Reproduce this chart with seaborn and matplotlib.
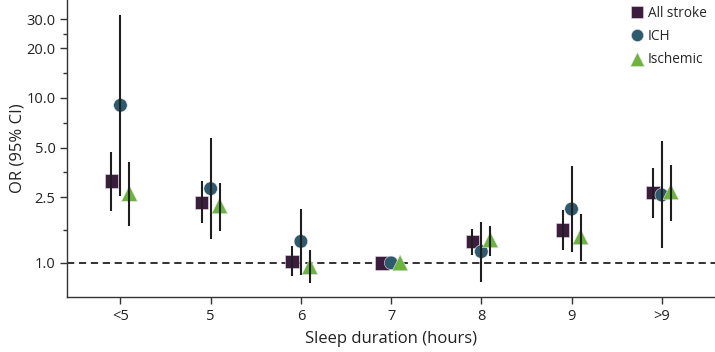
import pandas as pd
import numpy as np
import matplotlib
matplotlib.use("Agg")
import matplotlib.pyplot as plt
from matplotlib.ticker import FixedLocator, NullFormatter
import seaborn as sns

# sleep duration categories
sleep = ["<5", "5", "6", "7", "8", "9", ">9"]

# odds ratios and 95% CI
all_or = [3.14, 2.33, 1.02, 1.00, 1.35, 1.58, 2.67]
all_lo = [2.07, 1.74, 0.83, 1.00, 1.11, 1.19, 1.87]
all_hi = [4.70, 3.14, 1.26, 1.00, 1.61, 2.10, 3.75]

ich_or = [9.03, 2.82, 1.35, 1.00, 1.17, 2.12, 2.58]
ich_lo = [2.56, 1.40, 0.84, 1.00, 0.77, 1.16, 1.23]
ich_hi = [31.8, 5.70, 2.12, 1.00, 1.77, 3.87, 5.47]

isc_or = [2.64, 2.22, 0.95, 1.00, 1.38, 1.44, 2.70]
isc_lo = [1.68, 1.57, 0.75, 1.00, 1.10, 1.03, 1.80]
isc_hi = [4.08, 3.05, 1.19, 1.00, 1.68, 1.97, 3.94]

groups = ["All stroke", "ICH", "Ischemic"]
colors = {"All stroke": "#3d1d3e", "ICH": "#2d5a6d", "Ischemic": "#6cb33f"}
markers = {"All stroke": "s", "ICH": "o", "Ischemic": "^"}
sizes = {"All stroke": 95, "ICH": 95, "Ischemic": 130}
dodge = {"All stroke": -0.1, "ICH": 0.0, "Ischemic": 0.1}

frames = []
for g, o, lo, hi in zip(groups, [all_or, ich_or, isc_or], [all_lo, ich_lo, isc_lo], [all_hi, ich_hi, isc_hi]):
    d = pd.DataFrame({"sleep": sleep, "OR": o, "lo": lo, "hi": hi, "group": g})
    d["x"] = np.arange(len(sleep)) + dodge[g]
    frames.append(d)
df = pd.concat(frames, ignore_index=True)

sns.set_style("ticks")
plt.rcParams["font.family"] = ["Open Sans", "DejaVu Sans"]

fig = plt.figure(figsize=(7.15, 3.52), dpi=100)
ax = fig.add_axes([0.094, 0.156, 0.906, 0.844])

ax.axhline(1.0, color="#222222", lw=1.3, ls=(0, (4, 2.6)), zorder=1)

sns.scatterplot(data=df, x="x", y="OR", hue="group", style="group", size="group",
                palette=colors, markers=markers, sizes=sizes, size_order=groups,
                edgecolor="#e8dfe8", linewidth=0.4, ax=ax, zorder=3, legend="full")
ci = df[df["lo"] != df["hi"]]
ax.vlines(ci["x"], ci["lo"], ci["hi"], color="#1e1e1e", lw=1.5, zorder=4)

ax.set_yscale("log")
ax.set_ylim(0.62, 39.3)
ax.set_xlim(-0.59, 6.59)
ax.yaxis.set_major_locator(FixedLocator([1.0, 2.5, 5.0, 10.0, 20.0, 30.0]))
ax.set_yticklabels(["1.0", "2.5", "5.0", "10.0", "20.0", "30.0"])
ax.yaxis.set_minor_locator(FixedLocator([1.58, 3.54, 7.07, 14.1, 24.5]))
ax.yaxis.set_minor_formatter(NullFormatter())
ax.set_xticks(range(len(sleep)))
ax.set_xticklabels(sleep)

ax.tick_params(axis="both", which="major", length=5, width=1, color="#333333",
               labelsize=10.5, labelcolor="#222222")
ax.tick_params(axis="y", which="minor", length=3, width=1, color="#333333")
sns.despine(ax=ax)
for s in ["left", "bottom"]:
    ax.spines[s].set_color("#333333")
    ax.spines[s].set_linewidth(1)

ax.set_xlabel("Sleep duration (hours)", fontsize=12, color="#222222", labelpad=5)
ax.set_ylabel("OR (95% CI)", fontsize=12, color="#222222", labelpad=0.5)

handles, labels = ax.get_legend_handles_labels()
leg = ax.legend(handles, labels, loc="upper right", bbox_to_anchor=(1.0, 1.007), frameon=False,
                fontsize=9.8, handlelength=1.2, handletextpad=0.2, labelspacing=0.6,
                borderaxespad=0.2, markerscale=0.9)

fig.savefig("out.png", dpi=100)
